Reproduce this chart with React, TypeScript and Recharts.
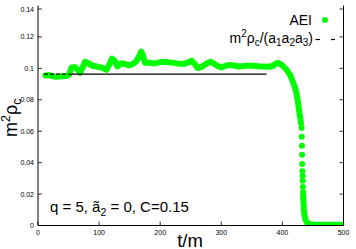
import React from 'react';
import { ComposedChart, Line, Scatter, XAxis, YAxis } from 'recharts';

const W = 356;
const H = 249;

const xTicks = [0, 100, 200, 300, 400, 500];
const yTicks = [0, 0.02, 0.04, 0.06, 0.08, 0.1, 0.12, 0.14];
const yTickLabels = ['0', '0.02', '0.04', '0.06', '0.08', '0.1', '0.12', '0.14'];

// AEI: dense smooth part
const aeiTime = [12, 18, 22, 30, 38, 46, 51, 55, 60, 64, 69, 73, 77, 82, 88, 96, 104, 112, 117, 121, 125, 130, 136, 141, 150, 156, 161, 166, 169, 172, 175, 183, 190, 198, 206, 215, 222, 230, 240, 247, 252, 257, 261, 267, 275, 282, 288, 294, 300, 306, 312, 320, 330, 340, 350, 360, 370, 378, 384, 390, 394, 400, 407, 413, 418, 422, 425, 427, 429, 430.5];
const aeiValue = [0.0955, 0.0958, 0.0952, 0.0946, 0.095, 0.0952, 0.096, 0.1005, 0.1008, 0.0995, 0.0972, 0.1005, 0.1042, 0.1035, 0.1018, 0.1012, 0.1005, 0.0992, 0.1025, 0.1062, 0.105, 0.1012, 0.1032, 0.1028, 0.102, 0.103, 0.1045, 0.108, 0.1106, 0.108, 0.1035, 0.1036, 0.103, 0.1038, 0.1042, 0.1038, 0.1035, 0.103, 0.103, 0.104, 0.1048, 0.1025, 0.1002, 0.1008, 0.1028, 0.1042, 0.103, 0.1015, 0.1005, 0.1015, 0.1022, 0.1018, 0.1012, 0.1016, 0.1017, 0.1013, 0.1012, 0.101, 0.1015, 0.1032, 0.1034, 0.1018, 0.099, 0.0955, 0.0905, 0.086, 0.08, 0.074, 0.069, 0.065];
// AEI: sparse samples in the steep drop
const aeiDotTime = [431.5, 431.7, 432, 432.2, 432.4, 432.7, 433, 433.2, 433.5, 433.8];
const aeiDotValue = [0.062, 0.0565, 0.0508, 0.045, 0.0392, 0.0345, 0.0315, 0.0285, 0.0245, 0.0212];
// AEI: dense tail
const aeiTailTime = [434, 434.5, 435, 436, 437.5, 440, 444, 450, 470, 500];
const aeiTailValue = [0.019, 0.015, 0.011, 0.007, 0.004, 0.002, 0.001, 0.0006, 0.0005, 0.0005];

// m^2 rho_c / (a1 a2 a3)
const theoryValue = 0.0963;
const theoryDashedTime = [10, 55];
const theorySolidTime = [55, 374];

const GREEN = '#00ff00';
const FONT = '"Liberation Sans", Arial, Helvetica, sans-serif';

const zip = (ts: number[], vs: number[]) => ts.map((t, i) => ({ t, v: vs[i] }));
const aeiData = zip(aeiTime, aeiValue);
const aeiDots = zip(aeiDotTime, aeiDotValue);
const aeiTail = zip(aeiTailTime, aeiTailValue);
const theoryDashed = theoryDashedTime.map((t) => ({ t, v: theoryValue }));
const theorySolid = theorySolidTime.map((t) => ({ t, v: theoryValue }));

const TL = 4;

const BottomTick = (p: any) => (
  <g>
    <line x1={p.x} y1={p.y} x2={p.x} y2={p.y - TL} stroke="#000" strokeWidth={0.8} />
    <text x={p.x} y={p.y + 9} textAnchor="middle" fontSize={7} fontFamily={FONT} fill="#000">
      {p.payload.value}
    </text>
  </g>
);
const TopTick = (p: any) => (
  <line x1={p.x} y1={p.y} x2={p.x} y2={p.y + TL} stroke="#000" strokeWidth={0.8} />
);
const LeftTick = (p: any) => {
  const idx = yTicks.indexOf(p.payload.value);
  return (
    <g>
      <line x1={p.x} y1={p.y} x2={p.x + TL} y2={p.y} stroke="#000" strokeWidth={0.8} />
      <text x={p.x - 4} y={p.y + 2.5} textAnchor="end" fontSize={7} fontFamily={FONT} fill="#000">
        {idx >= 0 ? yTickLabels[idx] : p.payload.value}
      </text>
    </g>
  );
};
const RightTick = (p: any) => (
  <line x1={p.x} y1={p.y} x2={p.x - TL} y2={p.y} stroke="#000" strokeWidth={0.8} />
);

const Dot = (p: any) => <circle cx={p.cx} cy={p.cy} r={3} fill={GREEN} />;

export default function App() {
  return (
    <div style={{ position: 'absolute', left: 0, top: 0, width: W, height: H, background: '#fff' }}>
      <ComposedChart width={W} height={H} margin={{ top: 5.5, right: 12, bottom: 0, left: 0 }}>
        <XAxis xAxisId="b" type="number" dataKey="t" domain={[0, 500]} ticks={xTicks} tick={BottomTick}
          tickLine={false} tickSize={0} tickMargin={0} height={23.5} axisLine={{ stroke: '#000' }} allowDataOverflow />
        <XAxis xAxisId="t" orientation="top" type="number" dataKey="t" domain={[0, 500]} ticks={xTicks} tick={TopTick}
          tickLine={false} tickSize={0} tickMargin={0} height={0} axisLine={{ stroke: '#000' }} allowDataOverflow />
        <YAxis yAxisId="l" type="number" dataKey="v" domain={[0, 0.14]} ticks={yTicks} tick={LeftTick}
          tickLine={false} tickSize={0} tickMargin={0} width={38} axisLine={{ stroke: '#000' }} allowDataOverflow />
        <YAxis yAxisId="r" orientation="right" type="number" dataKey="v" domain={[0, 0.14]} ticks={yTicks} tick={RightTick}
          tickLine={false} tickSize={0} tickMargin={0} width={0.5} axisLine={{ stroke: '#000' }} allowDataOverflow />

        <Line xAxisId="b" yAxisId="l" data={aeiData} dataKey="v" stroke={GREEN} strokeWidth={6}
          strokeLinecap="round" strokeLinejoin="round" dot={false} isAnimationActive={false} type="linear" />
        <Line xAxisId="t" yAxisId="r" data={aeiTail} dataKey="v" stroke={GREEN} strokeWidth={6}
          strokeLinecap="round" strokeLinejoin="round" dot={false} isAnimationActive={false} type="linear" />
        <Scatter xAxisId="b" yAxisId="l" data={aeiDots} dataKey="v" fill={GREEN} shape={Dot} isAnimationActive={false} />

        <Line xAxisId="b" yAxisId="l" data={theoryDashed} dataKey="v" stroke="#000" strokeWidth={1.1}
          strokeDasharray="4 2" dot={false} isAnimationActive={false} type="linear" />
        <Line xAxisId="b" yAxisId="l" data={theorySolid} dataKey="v" stroke="#000" strokeWidth={1.1}
          dot={false} isAnimationActive={false} type="linear" />
      </ComposedChart>

      <svg width={W} height={H} style={{ position: 'absolute', left: 0, top: 0, pointerEvents: 'none' }}
        fontFamily={FONT} fill="#000">
        {/* legend */}
        <text x={312} y={25} textAnchor="end" fontSize={14}>AEI</text>
        <circle cx={325} cy={20} r={3} fill={GREEN} />
        <text x={313} y={43} textAnchor="end" fontSize={14}>
          m<tspan fontSize={10} dy={-6}>2</tspan>
          <tspan dy={6}>ρ</tspan>
          <tspan fontSize={10} dy={3}>c</tspan>
          <tspan dy={-3}>/(a</tspan>
          <tspan fontSize={10} dy={3}>1</tspan>
          <tspan dy={-3}>a</tspan>
          <tspan fontSize={10} dy={3}>2</tspan>
          <tspan dy={-3}>a</tspan>
          <tspan fontSize={10} dy={3}>3</tspan>
          <tspan dy={-3}>)</tspan>
        </text>
        <line x1={315.5} y1={39.5} x2={320} y2={39.5} stroke="#000" strokeWidth={1.2} />
        <line x1={331} y1={39.5} x2={335} y2={39.5} stroke="#000" strokeWidth={1.2} />

        {/* annotation */}
        <text x={50} y={211.5} fontSize={15}>
          q = 5, ã<tspan fontSize={10.5} dy={4}>2</tspan>
          <tspan dy={-4}> = 0, C=0.15</tspan>
        </text>

        {/* axis labels */}
        <text x={190} y={246.5} textAnchor="middle" fontSize={18.5}>t/m</text>
        <text transform="translate(17,137) rotate(-90)" fontSize={18}>
          m<tspan fontSize={12.5} dy={-7}>2</tspan>
          <tspan dy={7}>ρ</tspan>
          <tspan fontSize={12.5} dy={4}>c</tspan>
        </text>
      </svg>
    </div>
  );
}
